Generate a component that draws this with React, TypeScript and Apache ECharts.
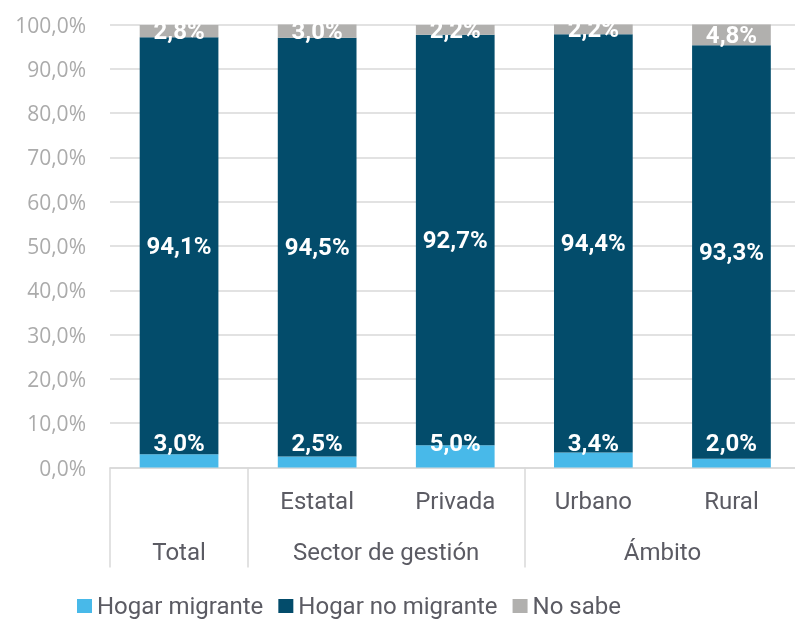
import React, { useEffect, useRef } from "react";
import * as echarts from "echarts";

const subCategories = ["", "Estatal", "Privada", "Urbano", "Rural"];
const groupLabels = ["Total", "Sector de gestión", "Ámbito"];
const groupLabelPositions = [0.5, 2, 4];
const groupSeparators = [0, 1, 3, 5];
const seriesNames = ["Hogar migrante", "Hogar no migrante", "No sabe"];
const migrante = [3.0, 2.5, 5.0, 3.4, 2.0];
const noMigrante = [94.1, 94.5, 92.7, 94.4, 93.3];
const noSabe = [2.8, 3.0, 2.2, 2.2, 4.8];
const colors = ["#48b9e9", "#034c6b", "#b1b0ae"];

const fmt = (v: number) => v.toFixed(1).replace(".", ",") + "%";

export default function App() {
  const ref = useRef<HTMLDivElement>(null);
  useEffect(() => {
    if (!ref.current) return;
    const chart = echarts.init(ref.current, null, { renderer: "svg" });
    const labelStyle = {
      show: true,
      color: "#ffffff",
      fontFamily: "Roboto",
      fontWeight: "bold" as const,
      fontSize: 24,
      formatter: (p: any) => fmt(p.value),
    };
    chart.setOption({
      animation: false,
      grid: {
        left: 110,
        width: 690.5,
        top: 24.5,
        bottom: 153.5,
        containLabel: false,
        outerBoundsMode: "none",
      },
      legend: {
        data: seriesNames,
        left: 72,
        top: 589,
        icon: "rect",
        itemWidth: 15,
        itemHeight: 14,
        itemGap: 15,
        textStyle: { fontFamily: "Roboto", fontSize: 24, color: "#5b5b63" },
      },
      xAxis: [
        {
          type: "category",
          data: subCategories,
          position: "bottom",
          axisLine: { show: true, lineStyle: { color: "#d9d9d9", width: 1.5 } },
          axisTick: { show: false },
          axisLabel: {
            interval: 0,
            margin: 21,
            fontFamily: "Roboto",
            fontSize: 24,
            color: "#5b5b63",
          },
        },
        {
          type: "value",
          min: 0,
          max: 5,
          position: "bottom",
          axisLine: { show: false },
          splitLine: { show: false },
          axisTick: {
            show: true,
            customValues: groupSeparators,
            length: 100,
            lineStyle: { color: "#d9d9d9", width: 1.5 },
          },
          axisLabel: {
            show: true,
            customValues: groupLabelPositions,
            margin: 72,
            fontFamily: "Roboto",
            fontSize: 24,
            color: "#5b5b63",
            formatter: (v: number) => {
              const i = groupLabelPositions.indexOf(v);
              return i >= 0 ? groupLabels[i] : "";
            },
          },
        },
      ],
      yAxis: {
        type: "value",
        min: 0,
        max: 100,
        interval: 10,
        axisLine: { show: false },
        axisTick: { show: false },
        splitLine: { lineStyle: { color: "#d9d9d9", width: 1.5 } },
        axisLabel: {
          margin: 24,
          fontFamily: "Open Sans",
          fontSize: 21,
          color: "#ababab",
          formatter: (v: number) => fmt(v),
        },
      },
      series: [
        {
          name: seriesNames[0],
          type: "bar",
          stack: "total",
          barWidth: "57%",
          data: migrante,
          itemStyle: { color: colors[0] },
          label: { ...labelStyle, position: "insideBottom", distance: 13 },
        },
        {
          name: seriesNames[1],
          type: "bar",
          stack: "total",
          barWidth: "57%",
          data: noMigrante,
          itemStyle: { color: colors[1] },
          label: { ...labelStyle, position: "inside" },
        },
        {
          name: seriesNames[2],
          type: "bar",
          stack: "total",
          barWidth: "57%",
          data: noSabe,
          itemStyle: { color: colors[2] },
          label: { ...labelStyle, position: "inside" },
        },
      ],
    });
    return () => chart.dispose();
  }, []);
  return (
    <div
      ref={ref}
      style={{ position: "fixed", left: 0, top: 0, width: 795, height: 621 }}
    />
  );
}
